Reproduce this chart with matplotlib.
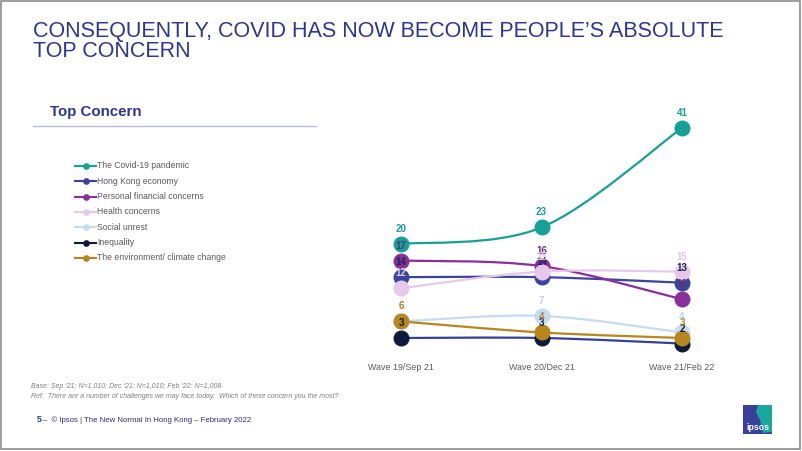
import matplotlib
matplotlib.use("Agg")
import matplotlib.pyplot as plt
from matplotlib.lines import Line2D
from matplotlib.patches import Rectangle, PathPatch, Polygon
from matplotlib.path import Path
import numpy as np

plt.rcParams['font.family'] = ['Liberation Sans', 'DejaVu Sans']

# ---------------- data ----------------
waves = ["Wave 19/Sep 21", "Wave 20/Dec 21", "Wave 21/Feb 22"]
series_names = ["The Covid-19 pandemic", "Hong Kong economy", "Personal financial concerns",
                "Health concerns", "Social unrest", "Inequality", "The environment/ climate change"]
covid = [20, 23, 41]
hk_economy = [14, 14, 13]
personal_fin = [17, 16, 10]
health = [12, 15, 15]
social_unrest = [6, 7, 4]
inequality = [3, 3, 2]
environment = [6, 4, 3]

values = [covid, hk_economy, personal_fin, health, social_unrest, inequality, environment]
line_colors = ["#16a096", "#3a449e", "#8a2e9c", "#e8c8ea", "#c4dcf3", "#0c1a3c", "#b8861e"]
label_colors = ["#16a096", "#1c2757", "#5e2f73", "#e2c6e6", "#b9d3ee", "#0e1f45", "#b8861e"]
inner_line_colors = ["#16a096", "#3a449e", "#8a2e9c", "#e8c8ea", "#c4dcf3", "#34409a", "#b8861e"]

# ---------------- figure ----------------
W, H = 802, 451
fig = plt.figure(figsize=(W / 100, H / 100), dpi=100)
fig.patch.set_facecolor("white")

def fx(px):
    return px / W

def fy(py):
    return 1 - py / H

# frame
fig.add_artist(Rectangle((fx(1), fy(449)), fx(800) - fx(1), fy(1) - fy(449),
                         transform=fig.transFigure, fill=False, edgecolor="#8c8c8c", lw=1.2))

blue = "#2e3690"
fig.text(fx(33), fy(37), "CONSEQUENTLY, COVID HAS NOW BECOME PEOPLE\u2019S ABSOLUTE",
         ha="left", va="baseline", fontsize=15.5, color=blue)
fig.text(fx(33), fy(57), "TOP CONCERN",
         ha="left", va="baseline", fontsize=15.5, color=blue)

fig.text(fx(50), fy(112), "Top Concern", ha="left", va="center", fontsize=10.8,
         fontweight="bold", color=blue)
fig.add_artist(Line2D([fx(33), fx(316)], [fy(126), fy(126)], transform=fig.transFigure,
                      color="#b9bddc", lw=1))

# legend (manual)
for i, (name, c) in enumerate(zip(series_names, line_colors)):
    yy = fy(166 + i * 15.3)
    fig.add_artist(Line2D([fx(75), fx(96)], [yy, yy], transform=fig.transFigure,
                          color=c, lw=1.5))
    fig.add_artist(Line2D([fx(85.5)], [yy], transform=fig.transFigure, color=c,
                          marker="o", ms=3.8, lw=0))
    fig.text(fx(97), yy, name, ha="left", va="center", fontsize=6.2, color="#595959")

# ---------------- chart ----------------
ax = fig.add_axes([fx(330.75), fy(360), 421.5 / W, 250 / H])
ax.set_xlim(-0.5, 2.5)
ax.set_ylim(-0.98, 44.23)
for s in ax.spines.values():
    s.set_visible(False)
ax.set_yticks([])
ax.set_xticks(range(len(waves)))
ax.set_xticklabels(waves, fontsize=6.4, color="#595959")
ax.tick_params(axis="x", length=0, pad=2.5)
ax.patch.set_alpha(0)


def smooth_path(xs, ys):
    pts = np.column_stack([xs, ys]).astype(float)
    n = len(pts)
    verts = [pts[0]]
    codes = [Path.MOVETO]
    for i in range(n - 1):
        p0 = pts[i - 1] if i > 0 else pts[i]
        p1 = pts[i]
        p2 = pts[i + 1]
        p3 = pts[i + 2] if i + 2 < n else pts[i + 1]
        c1 = p1 + (p2 - p0) / 6.0
        c2 = p2 - (p3 - p1) / 6.0
        verts += [c1, c2, p2]
        codes += [Path.CURVE4] * 3
    return Path(verts, codes)


xs = np.arange(len(waves))
for k, (vals, c, lc) in enumerate(zip(values, line_colors, inner_line_colors)):
    patch = PathPatch(smooth_path(xs, vals), facecolor="none", edgecolor=lc, lw=1.6,
                      zorder=2 + k * 0.1)
    ax.add_patch(patch)
    ax.plot(xs, vals, lw=0, marker="o", ms=10.5, color=c, zorder=3 + k * 0.1)

for k, (vals, tc) in enumerate(zip(values, label_colors)):
    for x, v in zip(xs, vals):
        ax.annotate(str(v), (x, v), xytext=(0, 10.8), textcoords="offset points",
                    ha="center", va="center", fontsize=7, fontweight="bold", color=tc,
                    zorder=10 + k * 0.1)

# ---------------- footnotes ----------------
fig.text(fx(31), fy(386), "Base: Sep \u201821: N=1,010; Dec \u201821: N=1,010; Feb \u201822: N=1,008",
         ha="left", va="center", fontsize=5.0, style="italic", color="#7f7f7f")
fig.text(fx(31), fy(396), "Ref:  There are a number of challenges we may face today.  Which of these concern you the most?",
         ha="left", va="center", fontsize=5.0, style="italic", color="#7f7f7f")

fig.text(fx(37), fy(420), "5", ha="left", va="center", fontsize=6.5, fontweight="bold", color=blue)
fig.text(fx(43), fy(420), "\u2013  \u00a9 Ipsos | The New Normal In Hong Kong \u2013 February 2022",
         ha="left", va="center", fontsize=5.6, color="#2b2f6b")

# ---------------- logo ----------------
lx0, lx1, ly0, ly1 = 743, 772, 405, 434
fig.add_artist(Rectangle((fx(lx0), fy(ly1)), fx(lx1) - fx(lx0), fy(ly0) - fy(ly1),
                         transform=fig.transFigure, facecolor="#3a3f9b", edgecolor="none"))
fig.add_artist(Polygon([(fx(758), fy(ly0)), (fx(lx1), fy(ly0)), (fx(lx1), fy(ly1 - 2)),
                        (fx(763), fy(ly1 - 1)), (fx(760), fy(420)), (fx(756), fy(412))],
                       closed=True, transform=fig.transFigure, facecolor="#18a89e",
                       edgecolor="none"))
fig.text(fx(757.5), fy(427), "ipsos", ha="center", va="center", fontsize=6.3,
         fontweight="bold", color="white")

fig.savefig("out.png", dpi=100)
